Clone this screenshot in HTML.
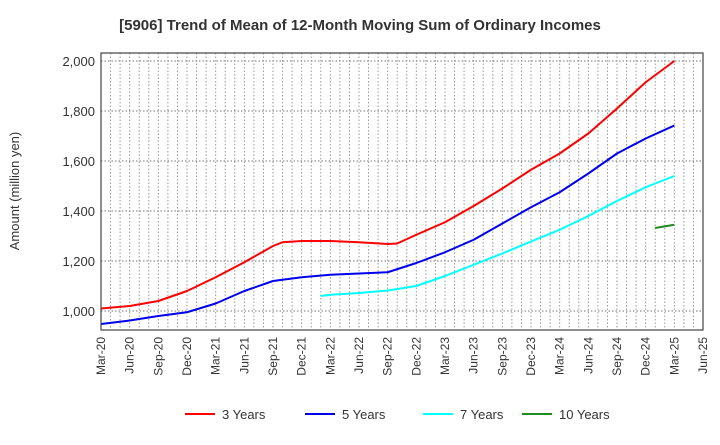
<!DOCTYPE html>
<html><head><meta charset="utf-8"><style>
body{margin:0;background:#fff;font-family:"Liberation Sans",sans-serif}
</style></head><body>
<svg id="c" width="720" height="440" xmlns="http://www.w3.org/2000/svg" font-family="Liberation Sans, sans-serif">
<text x="360" y="30" text-anchor="middle" font-size="15" font-weight="bold" fill="#333">[5906]  Trend of Mean of 12-Month Moving Sum of Ordinary Incomes</text>
<text transform="translate(19,191) rotate(-90)" text-anchor="middle" font-size="13" fill="#333">Amount (million yen)</text>
<g id="grid"></g><g id="series"></g><g id="axes"></g><g id="legend"></g>
</svg>
<script>
const xLabels=["Mar-20","Jun-20","Sep-20","Dec-20","Mar-21","Jun-21","Sep-21","Dec-21","Mar-22","Jun-22","Sep-22","Dec-22","Mar-23","Jun-23","Sep-23","Dec-23","Mar-24","Jun-24","Sep-24","Dec-24","Mar-25","Jun-25"];
const yTicks=[1000,1200,1400,1600,1800,2000];
const idx3=[0,1,2,3,4,5,6,6.33,7,8,9,10,10.33,11,12,13,14,15,16,17,18,19,20];
const y3=[1010,1020,1040,1080,1135,1195,1260,1275,1280,1280,1275,1268,1270,1305,1355,1420,1490,1565,1630,1710,1810,1915,2000];
const idx5=[0,1,2,3,4,5,6,7,8,9,10,11,12,13,14,15,16,17,18,19,20];
const y5=[948,962,980,995,1030,1080,1120,1135,1145,1150,1155,1192,1235,1285,1350,1415,1475,1550,1630,1690,1742];
const idx7=[7.67,8,9,10,11,12,13,14,15,16,17,18,19,20];
const y7=[1060,1065,1072,1082,1100,1140,1185,1230,1278,1325,1380,1440,1495,1540];
const idx10=[19.33,20];
const y10=[1332,1345];
const L=101,R=703,T=53,B=330;
const X=i=>L+i*(R-L)/21;
const Y=v=>311-(v-1000)*0.25;
const NS="http://www.w3.org/2000/svg";
function mk(t,a,p){const e=document.createElementNS(NS,t);for(const k in a)e.setAttribute(k,a[k]);p.appendChild(e);return e;}
const grid=document.getElementById('grid'),axes=document.getElementById('axes'),ser=document.getElementById('series'),leg=document.getElementById('legend');
for(let m=1;m<63;m++){const g=mk('line',{x1:X(m/3),x2:X(m/3),y1:T,y2:B,stroke:'#999','stroke-dasharray':'1.5,2','stroke-width':1},grid);

}
yTicks.forEach(v=>{const g=mk('line',{x1:L,x2:R,y1:Y(v),y2:Y(v),stroke:'#777','stroke-dasharray':'1.5,2','stroke-width':1},grid);


const t=mk('text',{x:L-6,y:Y(v)+5,'text-anchor':'end','font-size':13,fill:'#333'},axes);t.textContent=v.toLocaleString('en-US');

});
xLabels.forEach((s,i)=>{const t=mk('text',{transform:`translate(${X(i)+4},${B+7}) rotate(-90)`,'text-anchor':'end','font-size':12,fill:'#333'},axes);t.textContent=s;

});
const box=mk('rect',{x:L,y:T,width:R-L,height:B-T,fill:'none',stroke:'#444','stroke-width':1.2},axes);


const S=[[idx3,y3,'#ff0000','3 Years',185],[idx5,y5,'#0000ee','5 Years',305],[idx7,y7,'#00ffff','7 Years',423],[idx10,y10,'#228b22','10 Years',522]];
S.forEach(([ix,ys,c,n,lx])=>{const p=mk('polyline',{points:ix.map((i,k)=>X(i)+','+Y(ys[k])).join(' '),fill:'none',stroke:c,'stroke-width':2,'stroke-linejoin':'round'},ser);


const l=mk('line',{x1:lx,x2:lx+30,y1:414,y2:414,stroke:c,'stroke-width':2},leg);


const t=mk('text',{x:lx+37,y:419,'font-size':13,fill:'#333'},leg);t.textContent=n;

});
</script>
</body></html>
